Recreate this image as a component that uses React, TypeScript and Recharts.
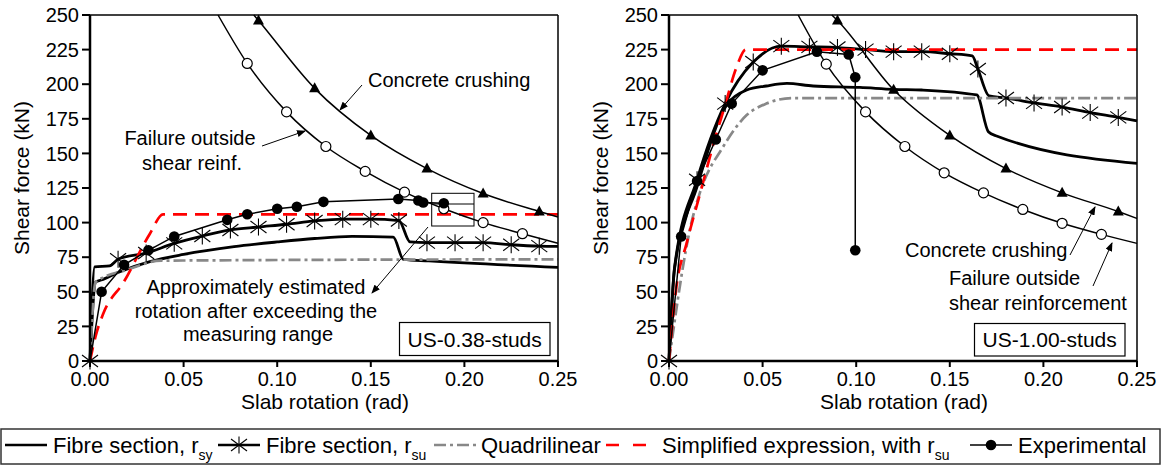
import { ComposedChart, Line, Scatter, XAxis, YAxis } from "recharts";

const FONT = "Arial, 'Liberation Sans', Helvetica, sans-serif";

// axis ticks
const xTicks = [0, 0.05, 0.1, 0.15, 0.2, 0.25];
const xMinorTicks = [0, 0.025, 0.05, 0.075, 0.1, 0.125, 0.15, 0.175, 0.2, 0.225, 0.25];
const yTicks = [0, 25, 50, 75, 100, 125, 150, 175, 200, 225, 250];
// rotations where the r_su curve carries a star marker
const starAt = [0, 0.015, 0.03, 0.045, 0.06, 0.075, 0.09, 0.105, 0.12, 0.135, 0.15, 0.165, 0.18, 0.195, 0.21, 0.225, 0.24];

// ---- US-0.38-studs (rotation rad / shear kN)
const rsyRot38 = [0, 0.003, 0.006, 0.016, 0.032, 0.05, 0.077, 0.1, 0.12, 0.14, 0.162, 0.1674, 0.181, 0.25];
const rsyV38 = [0, 57, 58.5, 64.5, 71.8, 77, 82.6, 86, 88.5, 90, 89.5, 73.5, 72.3, 67.7];
const rsuRot38 = [0, 0.0025, 0.0105, 0.015, 0.03, 0.045, 0.06, 0.075, 0.09, 0.105, 0.12, 0.135, 0.15, 0.165, 0.171, 0.18, 0.195, 0.21, 0.225, 0.24, 0.25];
const rsuV38 = [0, 68, 68.7, 73.5, 78, 85, 90.3, 94.7, 96.8, 98.8, 101.2, 102.5, 102.5, 101.5, 86, 85.5, 85.5, 85.5, 84, 83, 82.8];
const quadRot38 = [0, 0.003, 0.02, 0.038, 0.25];
const quadV38 = [0, 57, 66, 72.5, 73.5];
const simpRot38 = [0, 0.003, 0.007, 0.018, 0.032, 0.039, 0.25];
const simpV38 = [0, 18, 34, 57, 92, 106, 106];
const expRot38 = [0, 0.0062, 0.0182, 0.0312, 0.045, 0.0733, 0.084, 0.1, 0.1105, 0.1247, 0.1647, 0.1754, 0.178, 0.189];
const expV38 = [0, 50, 69.5, 80, 90, 102, 106, 110, 111.5, 115, 117, 116, 114.5, 114];
const outRot38 = [0.0684, 0.084, 0.105, 0.126, 0.147, 0.168, 0.189, 0.21, 0.231, 0.25];
const outV38 = [250, 215, 180, 155, 137, 122, 110, 100, 92, 85];
const crushRot38 = [0.0875, 0.09, 0.12, 0.15, 0.18, 0.21, 0.24, 0.25];
const crushV38 = [250, 246, 197, 163, 139, 121, 108, 104];

// ---- US-1.00-studs
const rsyRot100 = [0, 0.003, 0.015, 0.029, 0.0415, 0.052, 0.063, 0.077, 0.102, 0.12, 0.135, 0.1644, 0.1706, 0.175, 0.25];
const rsyV100 = [0, 67, 126, 181, 195.8, 198.7, 200.6, 198.7, 197.7, 196.3, 195.8, 192.2, 165.7, 162.6, 142.8];
const rsuRot100 = [0, 0.003, 0.015, 0.03, 0.045, 0.06, 0.075, 0.09, 0.105, 0.12, 0.135, 0.15, 0.162, 0.165, 0.171, 0.18, 0.195, 0.21, 0.225, 0.24, 0.25];
const rsuV100 = [0, 68, 131, 186, 216, 227.5, 227, 226.5, 225, 223.5, 223.5, 222, 220.5, 211, 191.5, 190, 186.5, 183.5, 179.5, 176, 173.5];
const quadRot100 = [0, 0.012, 0.0166, 0.029, 0.0415, 0.052, 0.066, 0.25];
const quadV100 = [0, 100, 122, 155, 177.7, 186, 190, 190];
const simpRot100 = [0, 0.004, 0.0094, 0.0166, 0.024, 0.03, 0.036, 0.041, 0.25];
const simpV100 = [0, 54, 85, 121, 158, 185, 212, 225, 225];
const expRot100 = [0, 0.0065, 0.015, 0.025, 0.0335, 0.05, 0.079, 0.096, 0.0995, 0.0995];
const expV100 = [0, 90, 130, 160, 186, 210, 223.5, 221.5, 205, 80];
const outRot100 = [0.069, 0.084, 0.105, 0.126, 0.147, 0.168, 0.189, 0.21, 0.231, 0.25];
const outV100 = [250, 214.5, 180, 155, 136, 121.5, 109.5, 99.5, 91.5, 85];
const crushRot100 = [0.087, 0.09, 0.12, 0.15, 0.18, 0.21, 0.24, 0.25];
const crushV100 = [250, 246, 196, 163, 139, 121.5, 108, 103];

type Pt = { x: number; y: number };
const pts = (rot: number[], v: number[]): Pt[] => rot.map((x, i) => ({ x, y: v[i] }));

const StarMark = ({ cx, cy }: any) => (
  <g stroke="#000" strokeWidth={1.1}>
    <line x1={cx} y1={cy - 8.5} x2={cx} y2={cy + 8.5} />
    <line x1={cx - 8} y1={cy - 6} x2={cx + 8} y2={cy + 6} />
    <line x1={cx - 8} y1={cy + 6} x2={cx + 8} y2={cy - 6} />
  </g>
);
const TriMark = ({ cx, cy }: any) => (
  <path d={`M${cx},${cy - 6} L${cx + 5.5},${cy + 4} L${cx - 5.5},${cy + 4} Z`} fill="#000" />
);
const OpenMark = ({ cx, cy }: any) => (
  <circle cx={cx} cy={cy} r={5} fill="#fff" stroke="#000" strokeWidth={1.2} />
);
const DotMark = ({ cx, cy }: any) => <circle cx={cx} cy={cy} r={5.3} fill="#000" />;

const axisTick = { fill: "#000", fontSize: 20, fontFamily: FONT };

function Panel({ rsy, rsu, quad, simp, exp, out, crush }: Record<string, Pt[]>) {
  const common = { xAxisId: "b", yAxisId: "l", dataKey: "y", isAnimationActive: false };
  const lineProps = { ...common, dot: false, activeDot: false, type: "monotone" as const };
  return (
    <ComposedChart width={580} height={420} margin={{ top: 14, right: 21, bottom: 9, left: 30 }}>
      <XAxis
        xAxisId="b"
        type="number"
        dataKey="x"
        domain={[0, 0.25]}
        ticks={xTicks}
        interval={0}
        tickFormatter={(v: number) => v.toFixed(2)}
        height={50}
        tickSize={6}
        tickMargin={5}
        axisLine={{ stroke: "#000", strokeWidth: 2.5 }}
        tickLine={{ stroke: "#000", strokeWidth: 2 }}
        tick={axisTick}
      />
      <XAxis
        xAxisId="t"
        orientation="top"
        type="number"
        dataKey="x"
        domain={[0, 0.25]}
        ticks={xMinorTicks}
        interval={0}
        height={1}
        tickSize={-4}
        tick={false}
        axisLine={{ stroke: "#000", strokeWidth: 1.5 }}
        tickLine={{ stroke: "#000", strokeWidth: 1.2 }}
      />
      <YAxis
        yAxisId="l"
        type="number"
        dataKey="y"
        domain={[0, 250]}
        ticks={yTicks}
        interval={0}
        width={60}
        tickSize={8}
        tickMargin={3}
        axisLine={{ stroke: "#000", strokeWidth: 2.5 }}
        tickLine={{ stroke: "#000", strokeWidth: 2 }}
        tick={axisTick}
      />
      <YAxis
        yAxisId="r"
        orientation="right"
        type="number"
        dataKey="y"
        domain={[0, 250]}
        ticks={yTicks}
        interval={0}
        width={1}
        tickSize={-4}
        tick={false}
        axisLine={{ stroke: "#000", strokeWidth: 1.5 }}
        tickLine={{ stroke: "#000", strokeWidth: 1.2 }}
      />
      <Line {...lineProps} data={rsy} stroke="#000" strokeWidth={2.8} />
      <Line {...lineProps} data={rsu} stroke="#000" strokeWidth={2.8} />
      <Line {...lineProps} data={quad} stroke="#888" strokeWidth={2.7} strokeDasharray="12 4 3 4" />
      <Line {...lineProps} data={simp} stroke="#f00" strokeWidth={2.7} strokeDasharray="14 8" />
      <Line {...common} type="linear" dot={false} activeDot={false} data={exp} stroke="#000" strokeWidth={1.5} />
      <Line {...lineProps} data={out} stroke="#000" strokeWidth={1.5} />
      <Line {...lineProps} data={crush} stroke="#000" strokeWidth={1.5} />
      <Scatter {...common} data={rsu.filter((p) => starAt.includes(p.x))} shape={(p: any) => <StarMark cx={p.cx} cy={p.cy} />} />
      <Scatter {...common} data={out.slice(1, -1)} shape={(p: any) => <OpenMark cx={p.cx} cy={p.cy} />} />
      <Scatter {...common} data={crush.slice(1, -1)} shape={(p: any) => <TriMark cx={p.cx} cy={p.cy} />} />
      <Scatter {...common} data={exp.filter((p) => p.x > 0)} shape={(p: any) => <DotMark cx={p.cx} cy={p.cy} />} />
    </ComposedChart>
  );
}

const txt = { fontFamily: FONT, fontSize: 20, fill: "#000" };
const ttl = { fontFamily: FONT, fontSize: 21, fill: "#000" };
const lg = { fontFamily: FONT, fontSize: 22, fill: "#000" };
const arrow = { stroke: "#000", strokeWidth: 1, markerEnd: "url(#ah)" };

export default function App() {
  return (
    <div style={{ position: "absolute", left: 0, top: 0, width: 1164, height: 466, background: "#fff" }}>
      <div style={{ position: "absolute", left: 0, top: 0 }}>
        <Panel
          rsy={pts(rsyRot38, rsyV38)}
          rsu={pts(rsuRot38, rsuV38)}
          quad={pts(quadRot38, quadV38)}
          simp={pts(simpRot38, simpV38)}
          exp={pts(expRot38, expV38)}
          out={pts(outRot38, outV38)}
          crush={pts(crushRot38, crushV38)}
        />
      </div>
      <div style={{ position: "absolute", left: 579, top: 0 }}>
        <Panel
          rsy={pts(rsyRot100, rsyV100)}
          rsu={pts(rsuRot100, rsuV100)}
          quad={pts(quadRot100, quadV100)}
          simp={pts(simpRot100, simpV100)}
          exp={pts(expRot100, expV100)}
          out={pts(outRot100, outV100)}
          crush={pts(crushRot100, crushV100)}
        />
      </div>
      <svg width={1164} height={466} style={{ position: "absolute", left: 0, top: 0, pointerEvents: "none" }}>
        <defs>
          <marker id="ah" markerWidth={9} markerHeight={7} refX={8} refY={3.5} orient="auto" markerUnits="userSpaceOnUse">
            <path d="M0,0 L9,3.5 L0,7 Z" fill="#000" />
          </marker>
        </defs>
        {/* axis titles */}
        <text {...ttl} transform="translate(29,178) rotate(-90)" textAnchor="middle">Shear force (kN)</text>
        <text {...ttl} transform="translate(607.5,178) rotate(-90)" textAnchor="middle">Shear force (kN)</text>
        <text {...ttl} x={325} y={409} textAnchor="middle">Slab rotation (rad)</text>
        <text {...ttl} x={904} y={409} textAnchor="middle">Slab rotation (rad)</text>

        {/* left panel notes */}
        <text {...txt} x={368} y={87}>Concrete crushing</text>
        <line x1={362} y1={85} x2={340} y2={110} {...arrow} />
        <text {...txt} x={190} y={145} textAnchor="middle">Failure outside</text>
        <text {...txt} x={192} y={170} textAnchor="middle">shear reinf.</text>
        <line x1={262} y1={146} x2={305} y2={131} {...arrow} />
        <text {...txt} x={256} y={294} textAnchor="middle">Approximately estimated</text>
        <text {...txt} x={256} y={318} textAnchor="middle">rotation after exceeding the</text>
        <text {...txt} x={258} y={341} textAnchor="middle">measuring range</text>
        <rect x={431.7} y={193.3} width={42.3} height={32.7} fill="none" stroke="#000" strokeWidth={1} />
        <line x1={431.7} y1={204} x2={474} y2={204} stroke="#000" strokeWidth={1} />
        <line x1={428} y1={227} x2={372} y2={293} {...arrow} />
        <rect x={399.5} y={322.5} width={150.5} height={33} fill="#fff" stroke="#000" strokeWidth={1.2} />
        <text {...ttl} x={474.7} y={346.5} textAnchor="middle">US-0.38-studs</text>

        {/* right panel notes */}
        <text {...txt} x={905} y={257}>Concrete crushing</text>
        <text {...txt} x={949} y={285}>Failure outside</text>
        <text {...txt} x={949} y={310}>shear reinforcement</text>
        <line x1={1070} y1={255} x2={1095} y2={207} {...arrow} />
        <line x1={1093} y1={286} x2={1112} y2={243} {...arrow} />
        <rect x={974.5} y={323.5} width={150.5} height={32.5} fill="#fff" stroke="#000" strokeWidth={1.2} />
        <text {...ttl} x={1049.7} y={347} textAnchor="middle">US-1.00-studs</text>

        {/* legend */}
        <rect x={1} y={429} width={1159} height={35} fill="#fff" stroke="#333" strokeWidth={1.5} />
        <line x1={5} y1={445} x2={47} y2={445} stroke="#000" strokeWidth={2.5} />
        <text {...lg} x={53} y={452.5}>
          Fibre section, r<tspan fontSize={14} dy={7}>sy</tspan>
        </text>
        <line x1={218} y1={445} x2={260} y2={445} stroke="#000" strokeWidth={2.5} />
        <StarMark cx={239} cy={445} />
        <text {...lg} x={266} y={452.5}>
          Fibre section, r<tspan fontSize={14} dy={7}>su</tspan>
        </text>
        <line x1={434} y1={445} x2={476} y2={445} stroke="#888" strokeWidth={2.5} strokeDasharray="12 4 3 4" />
        <text {...lg} x={481} y={452.5}>Quadrilinear</text>
        <line x1={606} y1={445} x2={646} y2={445} stroke="#f00" strokeWidth={2.5} strokeDasharray="13 14" />
        <text {...lg} x={662} y={452.5}>
          Simplified expression, with r<tspan fontSize={14} dy={7}>su</tspan>
        </text>
        <line x1={970} y1={445} x2={1012} y2={445} stroke="#000" strokeWidth={1.5} />
        <DotMark cx={991} cy={445} />
        <text {...lg} x={1018} y={452.5}>Experimental</text>
      </svg>
    </div>
  );
}
